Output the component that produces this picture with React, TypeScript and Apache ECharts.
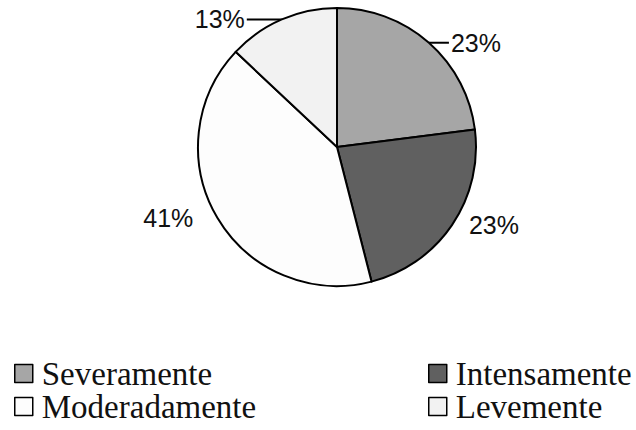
import React, { useEffect, useRef } from "react";
import * as echarts from "echarts";

const categories = ["Severamente", "Intensamente", "Moderadamente", "Levemente"];
const values = [23, 23, 41, 13];
const colors = ["#a6a6a6", "#606060", "#fdfdfd", "#f2f2f2"];
const legendLeftColumn = ["Severamente", "Moderadamente"];
const legendRightColumn = ["Intensamente", "Levemente"];

// per-slice label line settings (length2, show line)
const labelLen2 = [20, 15, 22, 35];
const labelLineShown = [true, false, false, true];

export default function App() {
  const ref = useRef<HTMLDivElement>(null);
  useEffect(() => {
    document.body.style.margin = "0";
    const chart = echarts.init(ref.current!, null, { renderer: "svg" });
    const legendCommon = {
      orient: "vertical" as const,
      top: 357,
      padding: 0,
      itemGap: 0,
      itemWidth: 18,
      itemHeight: 18,
      icon: "rect",
      itemStyle: { borderColor: "#000", borderWidth: 1.5 },
      textStyle: {
        fontFamily: "Liberation Serif",
        fontSize: 33,
        color: "#111",
        padding: [0, 0, 0, 4],
      },
    };
    chart.setOption({
      animation: false,
      backgroundColor: "#ffffff",
      legend: [
        { ...legendCommon, left: 14, data: legendLeftColumn },
        { ...legendCommon, left: 428, data: legendRightColumn },
      ],
      series: [
        {
          type: "pie",
          center: [337, 147],
          radius: 139,
          startAngle: 90,
          clockwise: true,
          avoidLabelOverlap: false,
          itemStyle: { borderColor: "#000", borderWidth: 2 },
          label: {
            show: true,
            position: "outside",
            formatter: "{c}%",
            fontFamily: "Liberation Sans",
            fontSize: 25,
            color: "#111",
            distanceToLabelLine: 2,
          },
          labelLine: {
            show: true,
            length: 0,
            smooth: false,
            lineStyle: { color: "#000", width: 2 },
          },
          emphasis: { disabled: true },
          data: categories.map((name, i) => ({
            name,
            value: values[i],
            itemStyle: { color: colors[i] },
            labelLine: {
              show: labelLineShown[i],
              length: 0,
              length2: labelLen2[i],
            },
          })),
        },
      ],
    });
    return () => chart.dispose();
  }, []);
  return <div ref={ref} style={{ width: 636, height: 430 }} />;
}
